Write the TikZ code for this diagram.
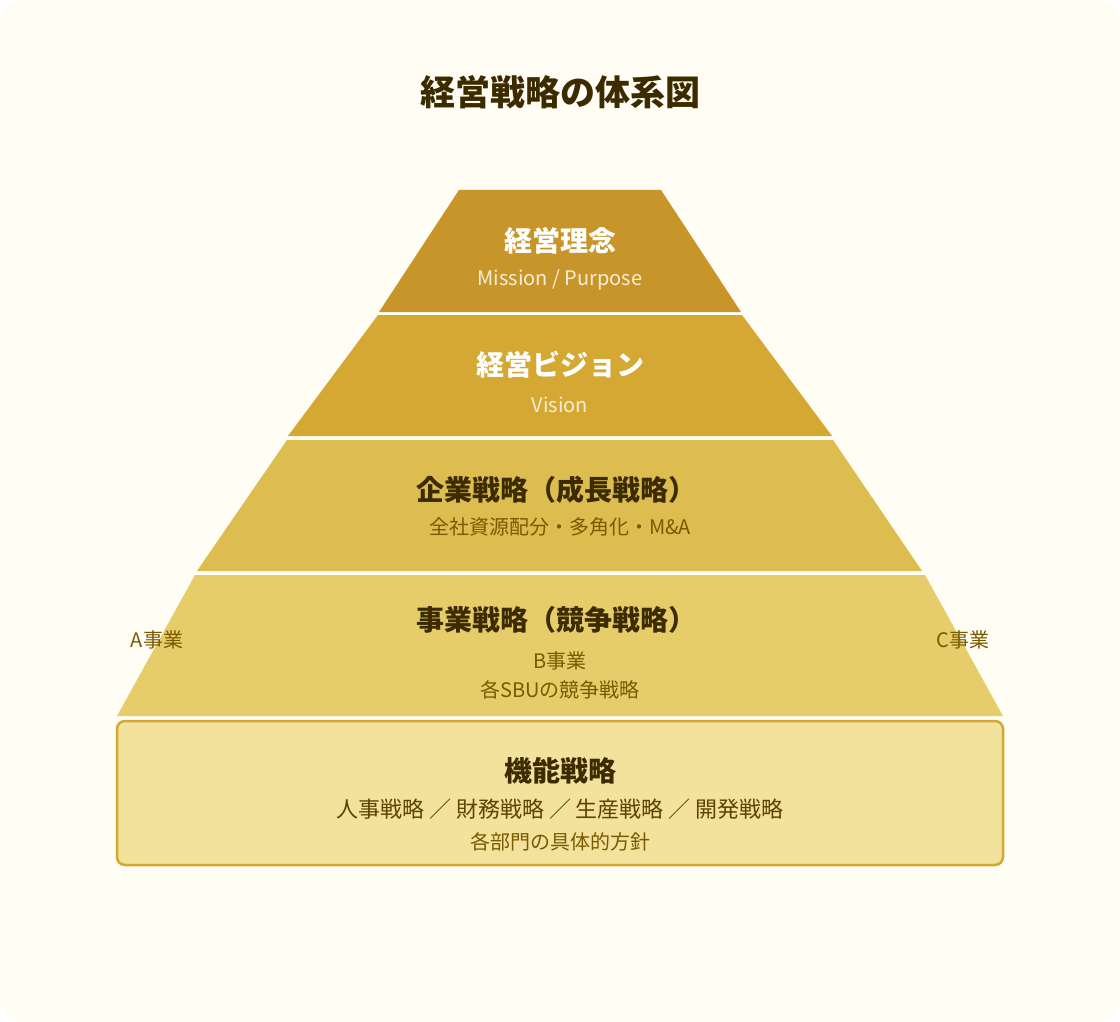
\documentclass[tikz,border=0pt]{standalone}
\usepackage{fontspec}
\setmainfont{Noto Sans CJK JP}
\newfontfamily\jp{Noto Sans CJK JP}
\definecolor{bgc}{HTML}{FFFDF4}
\definecolor{Lone}{HTML}{C8952A}
\definecolor{Ltwo}{HTML}{D4A832}
\definecolor{Lthree}{HTML}{DDBC50}
\definecolor{Lfour}{HTML}{E6CD6A}
\definecolor{Lfive}{HTML}{F2E29C}
\definecolor{darktxt}{HTML}{3D2B00}
\definecolor{subtxt}{HTML}{7A5A00}
\definecolor{sub5}{HTML}{5C4300}
\definecolor{lighttxt}{HTML}{F7EED6}
\tikzset{
  lbl/.style={inner sep=0pt, anchor=center, font=\jp},
  ttl/.style={lbl, font=\jp\bfseries\fontsize{28}{32}\selectfont},
  subl/.style={lbl, font=\jp\fontsize{20}{23}\selectfont},
}
\begin{document}
\begin{tikzpicture}[x=1pt,y=-1pt]
\useasboundingbox (0,0) rectangle (1120,1022);
\fill[bgc, rounded corners=24pt] (0,0) rectangle (1120,1022);
% layers
\fill[Lone] (459,190) -- (661,190) -- (741,312) -- (379,312) -- cycle;
\fill[Ltwo] (378,315) -- (742,315) -- (832,436) -- (288,436) -- cycle;
\fill[Lthree] (287,440) -- (833,440) -- (922,571) -- (197,571) -- cycle;
\fill[Lfour] (195,575) -- (925,575) -- (1003,716) -- (117,716) -- cycle;
\draw[Ltwo, line width=2.5pt, fill=Lfive, rounded corners=8pt] (117,721) rectangle (1003,865);
% title
\node[lbl, font=\jp\bfseries\fontsize{35}{39}\selectfont, text=darktxt] (title) at (560,92) {経営戦略の体系図};
% layer 1
\node[ttl, text=white] (l1a) at (560,241) {経営理念};
\node[lbl, font=\jp\fontsize{20}{23}\selectfont, text=lighttxt] (l1b) at (560,280) {Mission / Purpose};
% layer 2
\node[ttl, text=white] (l2a) at (560,365) {経営ビジョン};
\node[lbl, font=\jp\fontsize{20}{23}\selectfont, text=lighttxt] (l2b) at (560,405) {Vision};
% layer 3
\node[ttl, text=darktxt] (l3a) at (556,490) {企業戦略（成長戦略）};
\node[subl, text=subtxt] (l3b) at (560,527) {全社資源配分・多角化・M\&A};
% layer 4
\node[ttl, text=darktxt] (l4a) at (556,620) {事業戦略（競争戦略）};
\node[subl, text=subtxt] (l4A) at (157,640) {A事業};
\node[subl, text=subtxt] (l4C) at (963,640) {C事業};
\node[subl, text=subtxt] (l4B) at (560,661) {B事業};
\node[subl, text=subtxt] (l4b) at (560,690) {各SBUの競争戦略};
% layer 5
\node[ttl, text=darktxt] (l5a) at (560,771) {機能戦略};
\node[lbl, font=\jp\fontsize{22}{25}\selectfont, text=sub5] (l5b) at (560,809) {人事戦略 ／ 財務戦略 ／ 生産戦略 ／ 開発戦略};
\node[subl, text=subtxt] (l5c) at (560,842) {各部門の具体的方針};
\end{tikzpicture}
\end{document}
